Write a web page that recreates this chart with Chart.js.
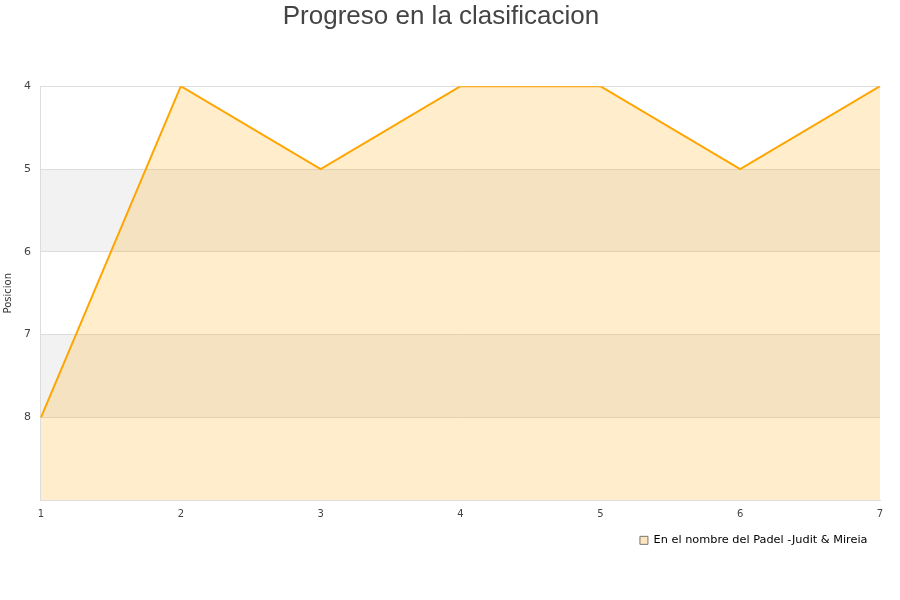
<!DOCTYPE html>
<html><head><meta charset="utf-8">
<script src="https://cdn.jsdelivr.net/npm/chart.js@4"></script>
<style>html,body{margin:0;padding:0;background:#fff}#wrap{width:900px;height:600px}</style>
</head><body><div id="wrap"><canvas id="c"></canvas></div>
<script>
const jornadas = ['1','2','3','4','5','6','7'];
const posiciones = [8,4,5,4,4,5,4];
const serieNombre = 'En el nombre del Padel -Judit & Mireia';
const tituloTexto = 'Progreso en la clasificacion';
const ejeY = 'Posicion';
const bandas = [[5,6],[7,8]];

const bandPlugin = {
  id:'bands',
  beforeDraw(chart){
    const {ctx, chartArea:a, scales:{y}} = chart;
    ctx.save();
    ctx.fillStyle = '#f2f2f2';
    bandas.forEach(([f,t])=>{
      const p1 = y.getPixelForValue(f), p2 = y.getPixelForValue(t);
      ctx.fillRect(a.left, Math.min(p1,p2), a.right-a.left, Math.abs(p2-p1));
    });
    ctx.restore();
  }
};

new Chart(document.getElementById('c'), {
  type:'line',
  data:{labels:jornadas, datasets:[{
    label:serieNombre, data:posiciones,
    borderColor:'#ffa500', backgroundColor:'rgba(255,165,0,0.2)',
    borderWidth:2, pointRadius:0, tension:0, fill:{value:9}
  }]},
  options:{
    responsive:true, maintainAspectRatio:false, animation:false,
    layout:{padding:{left:2,right:20,top:1,bottom:44}},
    plugins:{
      title:{display:true,text:tituloTexto,color:'#444',font:{family:'Liberation Sans',size:26,weight:'normal'},padding:{top:0,bottom:54}},
      legend:{position:'bottom',align:'end',labels:{boxWidth:8,boxHeight:8,color:'#000',font:{family:'DejaVu Sans',size:11.3},padding:12.5,
        generateLabels:(chart)=>chart.data.datasets.map((d,i)=>({text:d.label,fillStyle:'rgba(255,180,60,0.35)',strokeStyle:'#777',lineWidth:1,fontColor:'#000',datasetIndex:i,hidden:false}))}},
      tooltip:{enabled:false}
    },
    scales:{
      x:{offset:false,grid:{display:false,drawTicks:false},border:{color:'#ddd'},
         afterFit:(s)=>{s.height=22;},
         ticks:{color:'#444',font:{family:'DejaVu Sans',size:10},padding:8,maxRotation:0}},
      y:{reverse:true,min:4,max:9,
         grid:{color:'#ddd',drawTicks:false},border:{color:'#ddd'},
         ticks:{stepSize:1,color:'#444',font:{family:'DejaVu Sans',size:11},padding:10,
                callback:(v)=> v===9 ? '' : v},
         title:{display:true,text:ejeY,color:'#333',font:{family:'DejaVu Sans',size:10},padding:0}}
    }
  },
  plugins:[bandPlugin]
});
</script></body></html>
